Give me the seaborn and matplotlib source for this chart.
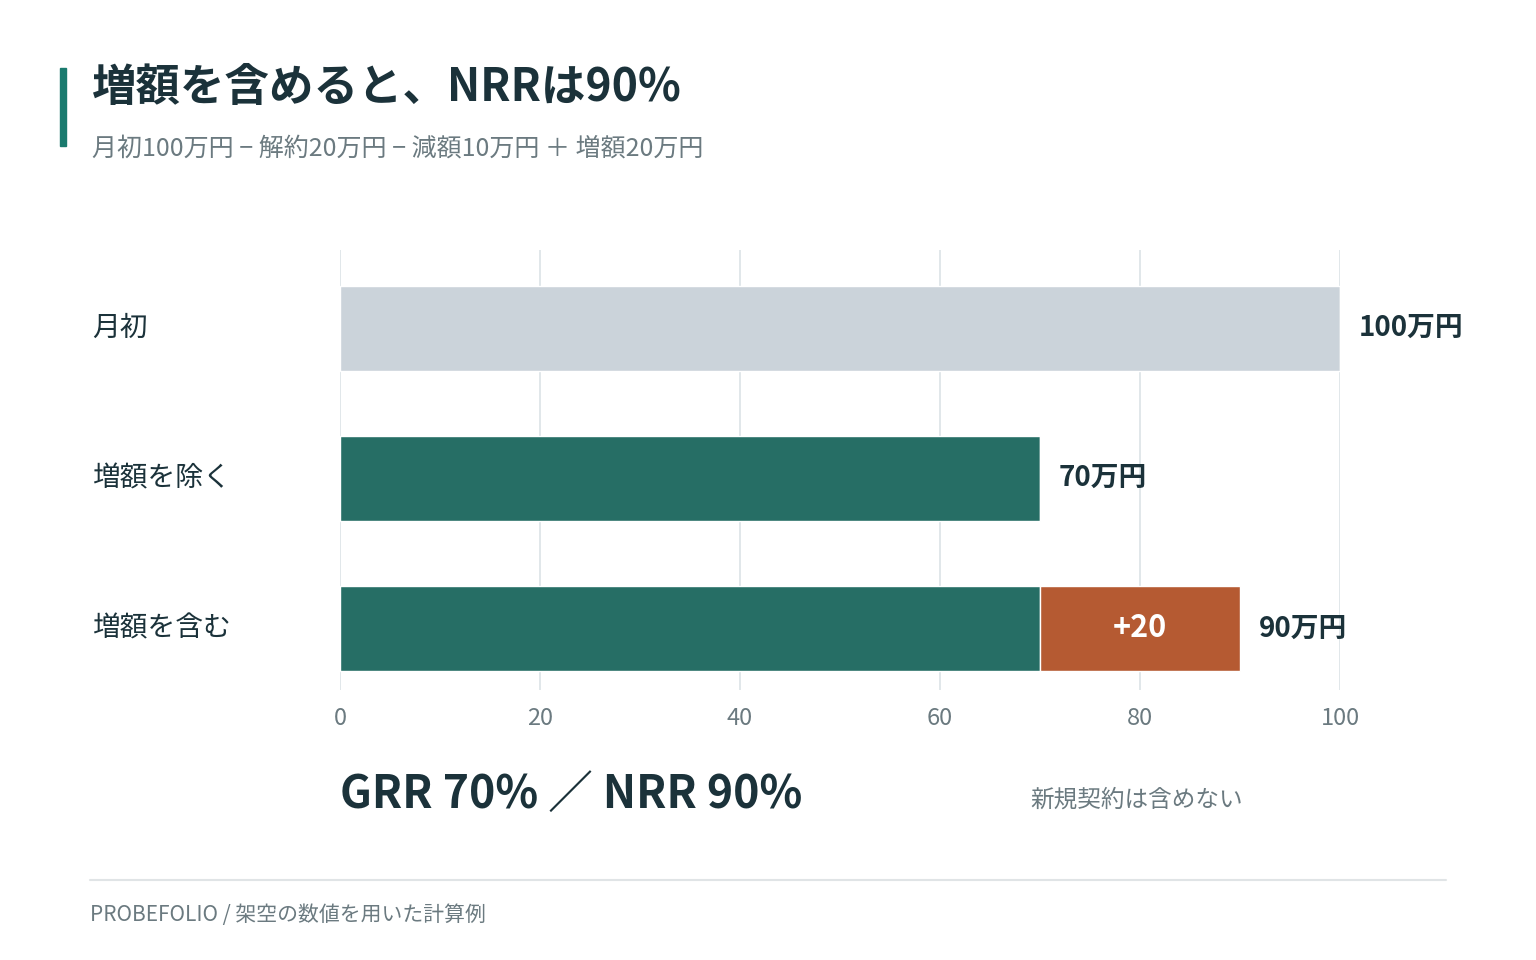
import matplotlib
matplotlib.use("Agg")
import matplotlib.pyplot as plt
import seaborn as sns
import pandas as pd

categories = ["月初", "増額を除く", "増額を含む"]
base_values = [100, 70, 70]
expansion_values = [0, 0, 20]
total_labels = ["100万円", "70万円", "90万円"]
xticks = [0, 20, 40, 60, 80, 100]

sns.set_style("white")
plt.rcParams["font.family"] = ["Noto Sans CJK JP", "DejaVu Sans"]

DARK = "#1B323A"
GREY = "#6B7A80"
TEAL = "#1A7A6E"
ORANGE = "#B55A32"
LIGHT = "#C8D4DC"

fig = plt.figure(figsize=(15.36, 9.6), dpi=100)
ax = fig.add_axes([340 / 1536, 1 - 690 / 960, 1000 / 1536, 440 / 960])

df = pd.DataFrame({"cat": categories, "base": base_values, "exp": expansion_values})
totals = [b + e for b, e in zip(base_values, expansion_values)]
sns.barplot(data=df, x="base", y="cat", ax=ax, orient="h", width=0.567,
            palette=[LIGHT, TEAL, TEAL], hue="cat", legend=False, zorder=3)
ax.barh(categories, expansion_values, left=base_values, height=0.567, color=ORANGE, zorder=3)

ax.set_xlim(0, 100)
ax.set_ylim(2.41, -0.52)
ax.set_xticks(xticks)
ax.grid(axis="x", color="#DCE3E6", lw=1.2, zorder=0)
for s in ax.spines.values():
    s.set_visible(False)
ax.set_xlabel("")
ax.set_ylabel("")
ax.tick_params(axis="x", labelsize=17, colors=GREY, length=0, pad=12)
ax.set_yticks([])
ax.set_clip_on(False)

for i, (cat, t, lab) in enumerate(zip(categories, totals, total_labels)):
    ax.text(t + 1.9, i, lab, va="center", ha="left", fontsize=20, fontweight="bold", color=DARK)
    fig.text(92 / 1536, 1 - (328 + 150 * i) / 960, cat, va="center", ha="left", fontsize=20, color=DARK)
for i, (b, e) in enumerate(zip(base_values, expansion_values)):
    if e:
        ax.text(b + e / 2, i, f"+{e}", va="center", ha="center", fontsize=22, color="white", fontweight="bold")

fig.add_artist(plt.Rectangle((60 / 1536, 1 - 146 / 960), 6 / 1536, 78 / 960, color=TEAL, transform=fig.transFigure))
fig.text(92 / 1536, 1 - 88 / 960, "増額を含めると、NRRは90%", fontsize=32, fontweight="bold", color=DARK, va="center")
fig.text(92 / 1536, 1 - 149 / 960, "月初100万円 − 解約20万円 − 減額10万円 ＋ 増額20万円", fontsize=18, color=GREY, va="center")
fig.text(340 / 1536, 1 - 795 / 960, "GRR 70% ／ NRR 90%", fontsize=32, fontweight="bold", color=DARK, va="center")
fig.text(1030 / 1536, 1 - 800 / 960, "新規契約は含めない", fontsize=17, color=GREY, va="center")
fig.add_artist(plt.Line2D([90 / 1536, 1446 / 1536], [1 - 880 / 960] * 2, color="#E0E4E6", lw=1.5))
fig.text(90 / 1536, 1 - 915 / 960, "PROBEFOLIO / 架空の数値を用いた計算例", fontsize=15, color=GREY, va="center")

fig.savefig("out.png", dpi=100, facecolor="white")
